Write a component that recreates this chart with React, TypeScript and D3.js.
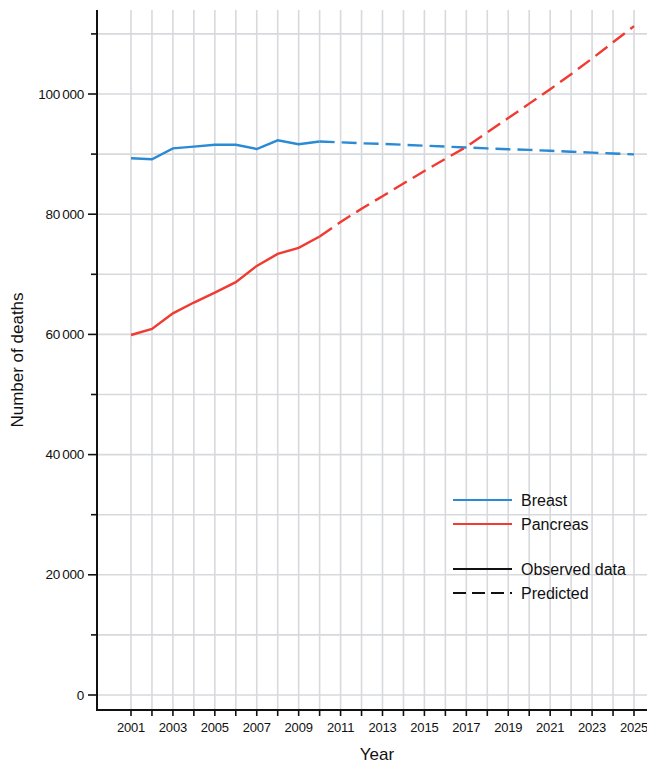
import React, { useRef, useEffect } from 'react';
import * as d3 from 'd3';

// observed 2001-2010
const observedYears = [2001, 2002, 2003, 2004, 2005, 2006, 2007, 2008, 2009, 2010];
const breastObserved = [89300, 89150, 90950, 91250, 91550, 91550, 90850, 92300, 91650, 92100];
const pancreasObserved = [59900, 60900, 63500, 65300, 66950, 68700, 71400, 73400, 74400, 76300];

// predicted 2010-2025
const predictedYears = [2010, 2011, 2012, 2013, 2014, 2015, 2016, 2017, 2018, 2019, 2020, 2021, 2022, 2023, 2024, 2025];
const breastPredicted = [92100, 91950, 91800, 91700, 91550, 91400, 91250, 91100, 90950, 90800, 90700, 90550, 90400, 90250, 90100, 89950];
const pancreasPredicted = [76300, 78700, 80900, 83000, 85100, 87200, 89200, 91200, 93600, 96000, 98400, 100800, 103300, 105900, 108600, 111300];

const allYears = d3.range(2001, 2026);
const yTicks = [0, 20000, 40000, 60000, 80000, 100000];
const yGrid = d3.range(0, 120000, 10000);

const BLUE = '#2a8ad4';
const RED = '#f03a32';
const FONT = '"Liberation Sans", Arial, Helvetica, sans-serif';

const App = () => {
  const ref = useRef<SVGSVGElement>(null);

  useEffect(() => {
    const svg = d3.select(ref.current);
    svg.selectAll('*').remove();

    const left = 97, right = 647, top = 10, bottom = 710;
    const x = d3.scaleLinear().domain([2001, 2025]).range([131, 634]);
    const y = d3.scaleLinear().domain([0, 100000]).range([695, 94]);

    // grid
    svg.append('g').selectAll('line').data(yGrid).enter().append('line')
      .attr('x1', left).attr('x2', right)
      .attr('y1', d => y(d)).attr('y2', d => y(d))
      .attr('stroke', '#d7d9dc').attr('stroke-width', 1.6);
    svg.append('g').selectAll('line').data(allYears).enter().append('line')
      .attr('x1', d => x(d)).attr('x2', d => x(d))
      .attr('y1', top).attr('y2', bottom)
      .attr('stroke', '#d7d9dc').attr('stroke-width', 1.6);

    // axes
    svg.append('line').attr('x1', left).attr('x2', left).attr('y1', top).attr('y2', bottom + 1)
      .attr('stroke', '#111').attr('stroke-width', 2);
    svg.append('line').attr('x1', left - 1).attr('x2', right).attr('y1', bottom).attr('y2', bottom)
      .attr('stroke', '#111').attr('stroke-width', 2);

    // y ticks
    svg.append('g').selectAll('line').data(yGrid).enter().append('line')
      .attr('x1', d => (d % 20000 === 0 ? left - 9 : left - 6)).attr('x2', left)
      .attr('y1', d => y(d)).attr('y2', d => y(d))
      .attr('stroke', '#111').attr('stroke-width', 1.6);
    svg.append('g').selectAll('text').data(yTicks).enter().append('text')
      .attr('x', left - 13).attr('y', d => y(d) + 4.5)
      .attr('text-anchor', 'end')
      .style('font-family', FONT).style('font-size', '13.5px').style('letter-spacing', '-0.3px')
      .attr('fill', '#111')
      .text(d => d3.format(',')(d).replace(',', '\u2009'));

    // x ticks
    svg.append('g').selectAll('line').data(allYears).enter().append('line')
      .attr('x1', d => x(d)).attr('x2', d => x(d))
      .attr('y1', bottom).attr('y2', bottom + 6)
      .attr('stroke', '#111').attr('stroke-width', 1.6);
    svg.append('g').selectAll('text').data(allYears.filter(d => d % 2 === 1)).enter().append('text')
      .attr('x', d => x(d)).attr('y', bottom + 22)
      .attr('text-anchor', 'middle')
      .style('font-family', FONT).style('font-size', '13px').style('letter-spacing', '-0.2px')
      .attr('fill', '#111')
      .text(d => String(d));

    // axis titles
    svg.append('text').attr('x', 377).attr('y', 760).attr('text-anchor', 'middle')
      .style('font-family', FONT).style('font-size', '17px').attr('fill', '#111').text('Year');
    svg.append('text').attr('transform', 'translate(23,360) rotate(-90)').attr('text-anchor', 'middle')
      .style('font-family', FONT).style('font-size', '17px').attr('fill', '#111').text('Number of deaths');

    // lines
    const line = d3.line<[number, number]>().x(d => x(d[0])).y(d => y(d[1]));
    const series = [
      { years: predictedYears, values: breastPredicted, color: BLUE, dash: '15,7' },
      { years: predictedYears, values: pancreasPredicted, color: RED, dash: '15,7' },
      { years: observedYears, values: breastObserved, color: BLUE, dash: null },
      { years: observedYears, values: pancreasObserved, color: RED, dash: null },
    ];
    series.forEach(s => {
      svg.append('path')
        .attr('d', line(s.years.map((yr, i) => [yr, s.values[i]] as [number, number])))
        .attr('fill', 'none').attr('stroke', s.color).attr('stroke-width', 2.4)
        .attr('stroke-dasharray', s.dash);
    });

    // legend
    const legend = [
      { label: 'Breast', color: BLUE, dash: null, yy: 500 },
      { label: 'Pancreas', color: RED, dash: null, yy: 524 },
      { label: 'Observed data', color: '#111', dash: null, yy: 569 },
      { label: 'Predicted', color: '#111', dash: '13,6', yy: 593 },
    ];
    const lg = svg.append('g');
    legend.forEach(l => {
      lg.append('line').attr('x1', 453).attr('x2', 512).attr('y1', l.yy).attr('y2', l.yy)
        .attr('stroke', l.color).attr('stroke-width', 2.2).attr('stroke-dasharray', l.dash);
      lg.append('text').attr('x', 521).attr('y', l.yy + 6)
        .style('font-family', FONT).style('font-size', '16px').attr('fill', '#111').text(l.label);
    });
  }, []);

  return (
    <svg ref={ref} width={647} height={765}
      style={{ position: 'absolute', left: 0, top: 0, background: '#fff' }} />
  );
};

export default App;
